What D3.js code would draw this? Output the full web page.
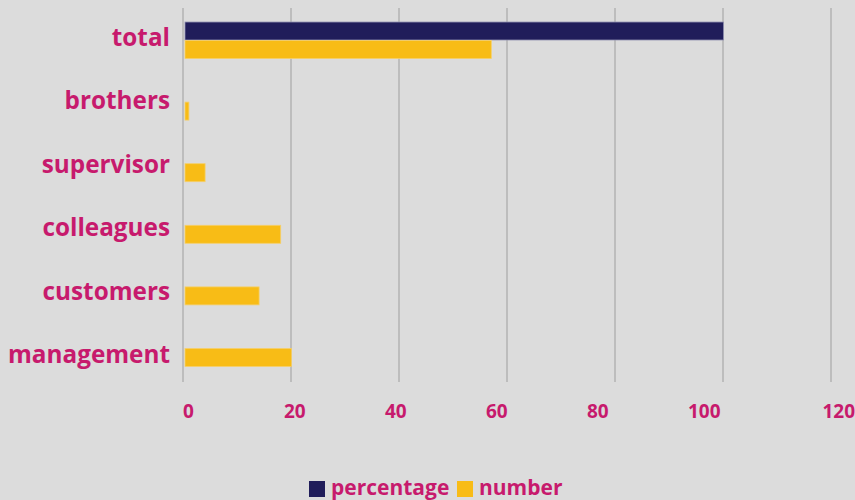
<!DOCTYPE html>
<html><head><meta charset="utf-8">
<script src="https://cdn.jsdelivr.net/npm/d3@7"></script>
<style>
html,body{margin:0;padding:0;background:#dcdcdc;}
svg{display:block;}
text{font-family:"Open Sans",sans-serif;font-weight:700;fill:#c71a6d;}
</style></head>
<body><svg id="chart" width="855" height="500"></svg>
<script>
const categories = ["total","brothers","supervisor","colleagues","customers","management"];
const seriesNames = ["percentage","number"];
const percentage = [100,0,0,0,0,0];
const number = [57,1,4,18,14,20];
const ticks = [0,20,40,60,80,100,120];
const colors = {percentage:"#201d5a", number:"#f8bc16"};

const svg = d3.select("#chart");
const W = 855, H = 500;
const plot = {left:183, right:831, top:9.7, bottom:379.3};

svg.append("rect").attr("width",W).attr("height",H).attr("fill","#dcdcdc");

const x = d3.scaleLinear().domain([0,120]).range([plot.left, plot.right]);
const y = d3.scaleBand().domain(categories).range([plot.top, plot.bottom]).paddingInner(0.4).paddingOuter(0.2);
const ys = d3.scaleBand().domain(seriesNames).range([0, y.bandwidth()]).padding(0);
// label baselines as placed in the reference
const yLabel = d3.scalePoint().domain(categories).range([45.7, 363.3]);

// gridlines
svg.append("g").selectAll("line").data(ticks).join("line")
  .attr("x1", d=>x(d)).attr("x2", d=>x(d))
  .attr("y1", 8).attr("y2", 382)
  .attr("stroke","#b3b3b3").attr("stroke-width",1.5);

// bars
const rows = categories.map((c,i)=>({cat:c, percentage:percentage[i], number:number[i]}));
const g = svg.append("g");
rows.forEach(r=>{
  seriesNames.forEach(s=>{
    if(r[s] > 0){
      g.append("rect")
        .attr("x", x(0)+2)
        .attr("y", y(r.cat)+ys(s))
        .attr("width", x(r[s])-x(0)-1.5)
        .attr("height", ys.bandwidth()-0.5)
        .attr("fill", colors[s])
        .attr("stroke", s==="percentage" ? "#8f8fb0" : "#f5cf6a")
        .attr("stroke-width", 0.8);
    }
  });
});

// category labels
svg.append("g").selectAll("text").data(categories).join("text")
  .attr("x", 170).attr("y", d=>yLabel(d))
  .attr("text-anchor","end")
  .attr("font-size",24.3).text(d=>d);

// tick labels (as placed in reference)
const xl = d3.scaleLinear().domain([0,100]).range([183, 688]);
svg.append("g").selectAll("text").data(ticks).join("text")
  .attr("x", d=> d===120 ? 855 : xl(d))
  .attr("text-anchor", d=> d===120 ? "end" : "start")
  .attr("y", 418).attr("font-size",19).text(d=>d);

// legend
const lg = svg.append("g");
const legendItems = [{name:"percentage", x:309},{name:"number", x:457}];
legendItems.forEach(it=>{
  lg.append("rect").attr("x", it.x).attr("y", 481).attr("width",16).attr("height",16).attr("fill",colors[it.name]);
  lg.append("text").attr("x", it.x+22).attr("y", 494.5).attr("font-size",21).text(it.name);
});
</script></body></html>
